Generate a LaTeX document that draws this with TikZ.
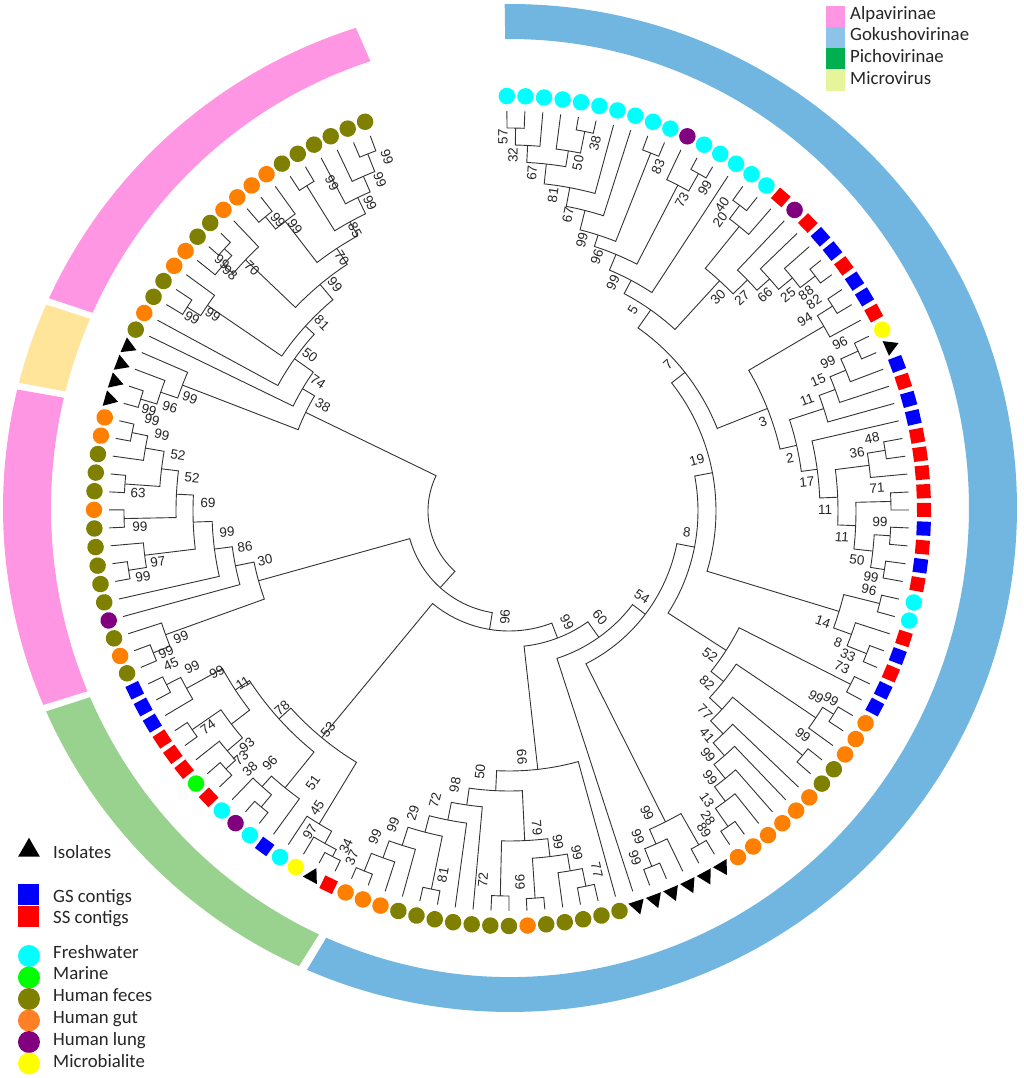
\documentclass[tikz,border=0pt]{standalone}
\usepackage{fontspec}
\setmainfont{Liberation Sans}
\newfontfamily\legfont{Carlito}
\usetikzlibrary{shapes.geometric}
\definecolor{cy}{RGB}{0,255,255}
\definecolor{ol}{RGB}{128,128,0}
\definecolor{og}{RGB}{255,128,0}
\definecolor{pu}{RGB}{128,0,128}
\definecolor{rd}{RGB}{255,0,0}
\definecolor{bl}{RGB}{0,0,255}
\definecolor{ye}{RGB}{255,255,0}
\definecolor{gr}{RGB}{0,255,0}
\definecolor{ringpink}{RGB}{255,150,228}
\definecolor{ringblue}{RGB}{112,182,225}
\definecolor{ringgreen}{RGB}{152,210,142}
\definecolor{ringyellow}{RGB}{255,229,153}
\definecolor{legblue}{RGB}{141,195,233}
\definecolor{leggreen}{RGB}{0,176,80}
\definecolor{legyg}{RGB}{230,245,155}
\definecolor{legorange}{RGB}{255,127,39}
\tikzset{
 br/.style={draw=black!80, line width=0.9pt},
 mkC/.style={circle, fill=cy, minimum size=16.5pt, inner sep=0pt},
 mkU/.style={circle, fill=pu, minimum size=16.5pt, inner sep=0pt},
 mkO/.style={circle, fill=og, minimum size=16.5pt, inner sep=0pt},
 mkV/.style={circle, fill=ol, minimum size=16.5pt, inner sep=0pt},
 mkY/.style={circle, fill=ye, minimum size=16.5pt, inner sep=0pt},
 mkG/.style={circle, fill=gr, minimum size=16.5pt, inner sep=0pt},
 mkR/.style={rectangle, fill=rd, minimum size=14pt, inner sep=0pt},
 mkB/.style={rectangle, fill=bl, minimum size=14pt, inner sep=0pt},
 mkT/.style={regular polygon, regular polygon sides=3, fill=black, minimum size=18.5pt, inner sep=0pt, shape border rotate=-90},
 lab/.style={font=\fontsize{13.5}{14}\selectfont, text=black!85, inner sep=0pt},
 leg/.style={font=\legfont\fontsize{18.8}{20}\selectfont, text=black!85, inner sep=0pt},
 legc/.style={circle, fill=#1, minimum size=22pt, inner sep=0pt},
 legs/.style={rectangle, fill=#1, minimum size=21pt, inner sep=0pt},
 legr/.style={rectangle, fill=#1, minimum width=18.6pt, minimum height=21pt, inner sep=0pt, anchor=north west},
}
% tip: name, index, marker style
\newcommand\trtip[3]{%
 \pgfmathsetmacro\trM{90.3-2.5758*(#2-1)}%
 \expandafter\xdef\csname trA#1\endcsname{\trM}%
 \expandafter\xdef\csname trR#1\endcsname{400}%
 \pgfmathsetmacro\trRot{ifthenelse(cos(\trM)>0,\trM,\trM+180)}%
 \node[#3, rotate=\trRot] (#1) at (\trM:415) {};}
% internal node: name, radius, child1, child2
\newcommand\trnd[4]{%
 \edef\trA{\csname trA#3\endcsname}%
 \edef\trB{\csname trA#4\endcsname}%
 \edef\trRa{\csname trR#3\endcsname}%
 \edef\trRb{\csname trR#4\endcsname}%
 \pgfmathsetmacro\trM{(\trA+\trB)/2}%
 \expandafter\xdef\csname trA#1\endcsname{\trM}%
 \expandafter\xdef\csname trR#1\endcsname{#2}%
 \draw[br] (\trA:\trRa) -- (\trA:#2) arc[start angle=\trA, end angle=\trB, radius=#2] -- (\trB:\trRb);%
 \coordinate (#1) at (\trM:#2);}
% bootstrap label at image pixel position
\newcounter{bsn}
\newcommand\trbs[3]{%
 \stepcounter{bsn}%
 \pgfmathsetmacro\trPhi{atan2(511-#2,#1-509)}%
 \pgfmathsetmacro\trRot{ifthenelse(cos(\trPhi)>-0.06,\trPhi,\trPhi+180)}%
 \node[lab, rotate=\trRot] (bs\arabic{bsn}) at (#1,#2) {#3};}
% ring segment
\newcommand\trseg[3]{\fill[#1] (#2:507 and 504) arc[start angle=#2, end angle=#3, x radius=507, y radius=504] -- (#3:459 and 469) arc[start angle=#3, end angle=#2, x radius=459, y radius=469] -- cycle;}
\begin{document}
\begin{tikzpicture}[x=1pt,y=1pt]
\useasboundingbox (-509,-567) rectangle (515,511);
\fill[white] (-509,-567) rectangle (515,511);
\begin{scope}[shift={(1,3)}]
\trseg{ringblue}{90.6}{-113.6}
\trseg{ringgreen}{-114.6}{-156.2}
\trseg{ringpink}{-157.0}{-193.6}
\trseg{ringyellow}{-194.4}{-203.8}
\trseg{ringpink}{-204.6}{-252.3}
\end{scope}
% tips
\foreach \s [count=\i] in {C,C,C,C,C,C,C,C,C,C,U,C,C,C,C,C,
 R,U,R,B,B,R,B,B,R,Y,T,
 B,R,B,B,R,R,R,R,R,B,R,B,R,C,C,R,B,R,B,B,
 O,O,O,V,V,O,O,O,O,O,O,
 T,T,T,T,T,T,
 V,V,V,V,V,O,V,V,V,V,V,V,V,O,O,O,
 R,T,Y,C,B,C,U,C,R,G,R,R,R,B,B,B,
 V,O,V,U,V,V,V,V,V,O,V,V,V,O,O,
 T,T,T,T,
 V,O,V,V,O,O,V,V,O,O,O,O,V,V,V,V,V,V}
 {\edef\trtmp{\noexpand\trtip{t\i}{\i}{mk\s}}\trtmp}
% top clade
\trnd{a57}{383}{t1}{t2}
\trnd{a32}{366}{a57}{t3}
\trnd{a38}{387}{t5}{t6}
\trnd{a50}{365}{t4}{a38}
\trnd{a67}{349}{a32}{a50}
\trnd{a81}{329}{a67}{t7}
\trnd{a67b}{310}{a81}{t8}
\trnd{a83}{385}{t9}{t10}
\trnd{a99}{290}{a67b}{a83}
\trnd{a99c}{387}{t12}{t13}
\trnd{a73}{367}{t11}{a99c}
\trnd{a96}{278}{a99}{a73}
\trnd{a99b}{261}{a96}{t14}
\trnd{b40}{383}{t15}{t16}
\trnd{b20}{366}{b40}{t17}
\trnd{b88}{386}{t21}{t22}
\trnd{b25}{367}{t20}{b88}
\trnd{b66}{349}{t19}{b25}
\trnd{b27}{332}{t18}{b66}
\trnd{b30}{312}{b20}{b27}
\trnd{a5}{246}{a99b}{b30}
\trnd{c82}{383}{t23}{t24}
\trnd{c94}{365}{c82}{t25}
\trnd{c96}{384}{t26}{t27}
\trnd{c99}{365}{c96}{t28}
\trnd{c15}{348}{c99}{t29}
\trnd{c11}{331}{c15}{t30}
\trnd{c48}{381}{t32}{t33}
\trnd{c36}{363}{c48}{t34}
\trnd{c71}{382}{t35}{t36}
\trnd{c99e}{382}{t37}{t38}
\trnd{c99f}{380}{t39}{t40}
\trnd{c50}{366}{c99e}{c99f}
\trnd{c11c}{347}{c71}{c50}
\trnd{c11b}{329}{c36}{c11c}
\trnd{c17}{311}{t31}{c11b}
\trnd{c2}{295}{c11}{c17}
\trnd{c3}{278}{c94}{c2}
\trnd{a7}{224}{a5}{c3}
\trnd{d96}{382}{t41}{t42}
\trnd{d33}{385}{t44}{t45}
\trnd{d8}{364}{t43}{d33}
\trnd{d14}{345}{d96}{d8}
\trnd{a19}{207}{a7}{d14}
\trnd{e73}{383}{t46}{t47}
\trnd{e99a}{383}{t48}{t49}
\trnd{e99b}{370}{e99a}{t50}
\trnd{e99c}{382}{t51}{t52}
\trnd{e28}{384}{t57}{t58}
\trnd{e13}{362}{t56}{e28}
\trnd{e99d}{344}{t55}{e13}
\trnd{e99e}{326}{t54}{e99d}
\trnd{e41}{309}{t53}{e99e}
\trnd{e77}{291}{e99c}{e41}
\trnd{e82}{274}{e99b}{e77}
\trnd{e52}{258}{e73}{e82}
\trnd{f8}{189}{a19}{e52}
\trnd{g59}{384}{t59}{t60}
\trnd{g62}{383}{t62}{t63}
\trnd{g61}{364}{t61}{g62}
\trnd{g99}{348}{g59}{g61}
\trnd{nF}{171}{g99}{f8}
\trnd{nE}{155}{t64}{nF}
% bottom clade
\trnd{h77}{383}{t66}{t67}
\trnd{h99x}{365}{t68}{h77}
\trnd{h99z}{388}{t69}{t70}
\trnd{h66y}{348}{h99z}{h99x}
\trnd{h72}{385}{t71}{t72}
\trnd{h79}{330}{h72}{h66y}
\trnd{h37}{388}{t79}{t80}
\trnd{h99q}{369}{t78}{h37}
\trnd{h99p}{351}{t77}{h99q}
\trnd{h81}{386}{t75}{t76}
\trnd{h29}{332}{h81}{h99p}
\trnd{h72b}{315}{t74}{h29}
\trnd{h98}{297}{t73}{h72b}
\trnd{h50}{280}{h98}{h79}
\trnd{h66}{260}{h50}{t65}
\trnd{nD}{136}{h66}{nE}
% green clade
\trnd{k34}{388}{t81}{t82}
\trnd{k97}{380}{k34}{t83}
\trnd{k45}{366}{k97}{t84}
\trnd{k87}{386}{t86}{t87}
\trnd{k96}{370}{k87}{t88}
\trnd{k51}{356}{t85}{k96}
\trnd{k38}{383}{t89}{t90}
\trnd{k73}{370}{k38}{t91}
\trnd{k74}{385}{t92}{t93}
\trnd{k93}{350}{k73}{k74}
\trnd{k99a}{384}{t95}{t96}
\trnd{k99b}{368}{t94}{k99a}
\trnd{k11}{327}{k99b}{k93}
\trnd{k78}{310}{k11}{k51}
\trnd{k53}{294}{k78}{k45}
\trnd{nC}{120}{k53}{nD}
% left clade
\trnd{m45}{383}{t97}{t98}
\trnd{m99bl}{365}{t99}{m45}
\trnd{m110}{385}{t110}{t111}
\trnd{m99l3}{369}{t109}{m110}
\trnd{m63}{385}{t107}{t108}
\trnd{m52a}{350}{m63}{m99l3}
\trnd{m105}{385}{t105}{t106}
\trnd{m52b}{333}{m105}{m52a}
\trnd{m99l}{385}{t102}{t103}
\trnd{m97}{367}{t104}{m99l}
\trnd{m69}{316}{m97}{m52b}
\trnd{m9986}{297}{t101}{m69}
\trnd{m86}{279}{t100}{m9986}
\trnd{m30}{260}{m99bl}{m86}
\trnd{nB}{103}{m30}{nC}
% top-left clade
\trnd{n112}{385}{t112}{t113}
\trnd{n96}{368}{t114}{n112}
\trnd{n99t}{350}{t115}{n96}
\trnd{p1}{384}{t132}{t133}
\trnd{p2}{365}{t131}{p1}
\trnd{p3}{348}{t130}{p2}
\trnd{p4}{383}{t128}{t129}
\trnd{p5}{330}{p4}{p3}
\trnd{q1}{382}{t125}{t126}
\trnd{q2}{366}{q1}{t127}
\trnd{p6}{314}{q2}{p5}
\trnd{r1}{387}{t122}{t123}
\trnd{r2}{377}{t121}{r1}
\trnd{r3}{364}{r2}{t124}
\trnd{nU}{295}{r3}{p6}
\trnd{s1}{381}{t118}{t119}
\trnd{s2}{365}{s1}{t120}
\trnd{nV}{275}{s2}{nU}
\trnd{nW}{263}{t117}{nV}
\trnd{nX}{240}{t116}{nW}
\trnd{n38}{226}{n99t}{nX}
\trnd{root}{81}{n38}{nB}
% labels and legends in image pixel coordinates
\begin{scope}[shift={(-509,511)}, y=-1pt]
\trbs{503}{137}{57}\trbs{513}{155}{32}\trbs{532}{173}{67}\trbs{553}{195}{81}
\trbs{568}{215}{67}\trbs{582}{240}{99}\trbs{597}{257}{96}\trbs{613}{283}{99}
\trbs{633}{310}{5}\trbs{578}{163}{50}\trbs{595}{143}{38}\trbs{658}{167}{83}
\trbs{682}{200}{73}\trbs{705}{188}{99}\trbs{722}{205}{40}\trbs{720}{220}{20}
\trbs{718}{297}{30}\trbs{742}{298}{27}\trbs{765}{295}{66}\trbs{788}{295}{25}
\trbs{806}{293}{88}\trbs{814}{302}{82}\trbs{805}{320}{94}\trbs{840}{343}{96}
\trbs{828}{362}{99}\trbs{818}{380}{15}\trbs{807}{400}{11}\trbs{763}{422}{3}
\trbs{790}{458}{2}\trbs{807}{482}{17}\trbs{825}{510}{11}\trbs{842}{537}{11}
\trbs{872}{438}{48}\trbs{857}{453}{36}\trbs{877}{488}{71}\trbs{880}{522}{99}
\trbs{857}{560}{50}\trbs{871}{577}{99}\trbs{869}{590}{96}\trbs{697}{460}{19}
\trbs{687}{532}{8}\trbs{668}{365}{7}\trbs{823}{622}{14}\trbs{838}{643}{8}
\trbs{848}{655}{33}\trbs{842}{667}{73}
\trbs{710}{655}{52}\trbs{707}{683}{82}\trbs{705}{712}{77}\trbs{707}{735}{41}
\trbs{708}{755}{99}\trbs{710}{778}{99}\trbs{707}{800}{13}\trbs{708}{818}{28}
\trbs{704}{830}{89}\trbs{816}{697}{99}\trbs{831}{699}{99}\trbs{803}{735}{99}
\trbs{647}{813}{99}\trbs{638}{837}{99}\trbs{635}{858}{99}
\trbs{642}{597}{54}\trbs{600}{617}{60}\trbs{567}{622}{99}\trbs{505}{617}{96}
\trbs{522}{757}{66}\trbs{480}{772}{50}\trbs{455}{785}{98}\trbs{435}{800}{72}
\trbs{413}{813}{29}\trbs{393}{825}{99}\trbs{375}{837}{99}\trbs{346}{846}{34}
\trbs{352}{858}{37}\trbs{443}{875}{81}\trbs{483}{880}{72}\trbs{537}{828}{79}
\trbs{558}{842}{99}\trbs{577}{853}{99}\trbs{597}{870}{77}\trbs{520}{882}{99}
\trbs{328}{730}{53}\trbs{282}{708}{78}\trbs{243}{683}{11}\trbs{217}{672}{99}
\trbs{192}{667}{99}\trbs{166}{652}{99}\trbs{171}{664}{45}\trbs{208}{727}{74}
\trbs{247}{745}{93}\trbs{241}{758}{73}\trbs{250}{769}{38}\trbs{270}{763}{96}
\trbs{313}{783}{51}\trbs{317}{808}{45}\trbs{310}{832}{97}
\trbs{310}{355}{50}\trbs{318}{382}{74}\trbs{323}{405}{38}\trbs{190}{398}{99}
\trbs{170}{407}{96}\trbs{149}{410}{99}\trbs{152}{420}{99}\trbs{162}{435}{99}
\trbs{178}{455}{52}\trbs{192}{478}{52}\trbs{138}{493}{63}\trbs{140}{527}{99}
\trbs{208}{503}{69}\trbs{227}{532}{99}\trbs{158}{562}{97}\trbs{143}{577}{99}
\trbs{245}{547}{86}\trbs{265}{560}{30}\trbs{181}{637}{99}
\trbs{332}{183}{99}\trbs{278}{220}{99}\trbs{295}{227}{99}\trbs{222}{262}{99}
\trbs{230}{273}{98}\trbs{252}{268}{70}\trbs{342}{258}{70}\trbs{335}{285}{99}
\trbs{192}{318}{99}\trbs{213}{315}{99}\trbs{322}{323}{81}\trbs{387}{157}{99}
\trbs{380}{180}{99}\trbs{370}{203}{99}\trbs{355}{230}{85}
% top-right legend
\node[legr=ringpink] (lgA) at (825.7,5.7) {};
\node[legr=legblue] (lgG) at (825.7,26.9) {};
\node[legr=leggreen] (lgP) at (825.7,48.2) {};
\node[legr=legyg] (lgM) at (825.7,69.4) {};
\node[leg, anchor=base west] (ltA) at (850,20) {Alpavirinae};
\node[leg, anchor=base west] (ltG) at (850,41) {Gokushovirinae};
\node[leg, anchor=base west] (ltP) at (850,63) {Pichovirinae};
\node[leg, anchor=base west] (ltM) at (850,85) {Microvirus};
% bottom-left legend
\node[regular polygon, regular polygon sides=3, fill=black, minimum size=25pt, inner sep=0pt] (lgI) at (29,850.3) {};
\node[legs=bl] (lgGS) at (28.5,894.5) {};
\node[legs=rd] (lgSS) at (28.5,916.5) {};
\node[legc=cy] (lgFW) at (29,956) {};
\node[legc=gr] (lgMA) at (29,977.5) {};
\node[legc=ol] (lgHF) at (29,999) {};
\node[legc=legorange] (lgHG) at (29,1020.5) {};
\node[legc=pu] (lgHL) at (29,1042) {};
\node[legc=ye] (lgMB) at (29,1063.5) {};
\node[leg, anchor=base west] (tI) at (53,858) {Isolates};
\node[leg, anchor=base west] (tGS) at (53,902) {GS contigs};
\node[leg, anchor=base west] (tSS) at (53,923) {SS contigs};
\node[leg, anchor=base west] (tFW) at (53,958) {Freshwater};
\node[leg, anchor=base west] (tMA) at (53,979.5) {Marine};
\node[leg, anchor=base west] (tHF) at (53,1001.5) {Human feces};
\node[leg, anchor=base west] (tHG) at (53,1023) {Human gut};
\node[leg, anchor=base west] (tHL) at (53,1045.5) {Human lung};
\node[leg, anchor=base west] (tMB) at (53,1067) {Microbialite};
\end{scope}
\end{tikzpicture}
\end{document}
